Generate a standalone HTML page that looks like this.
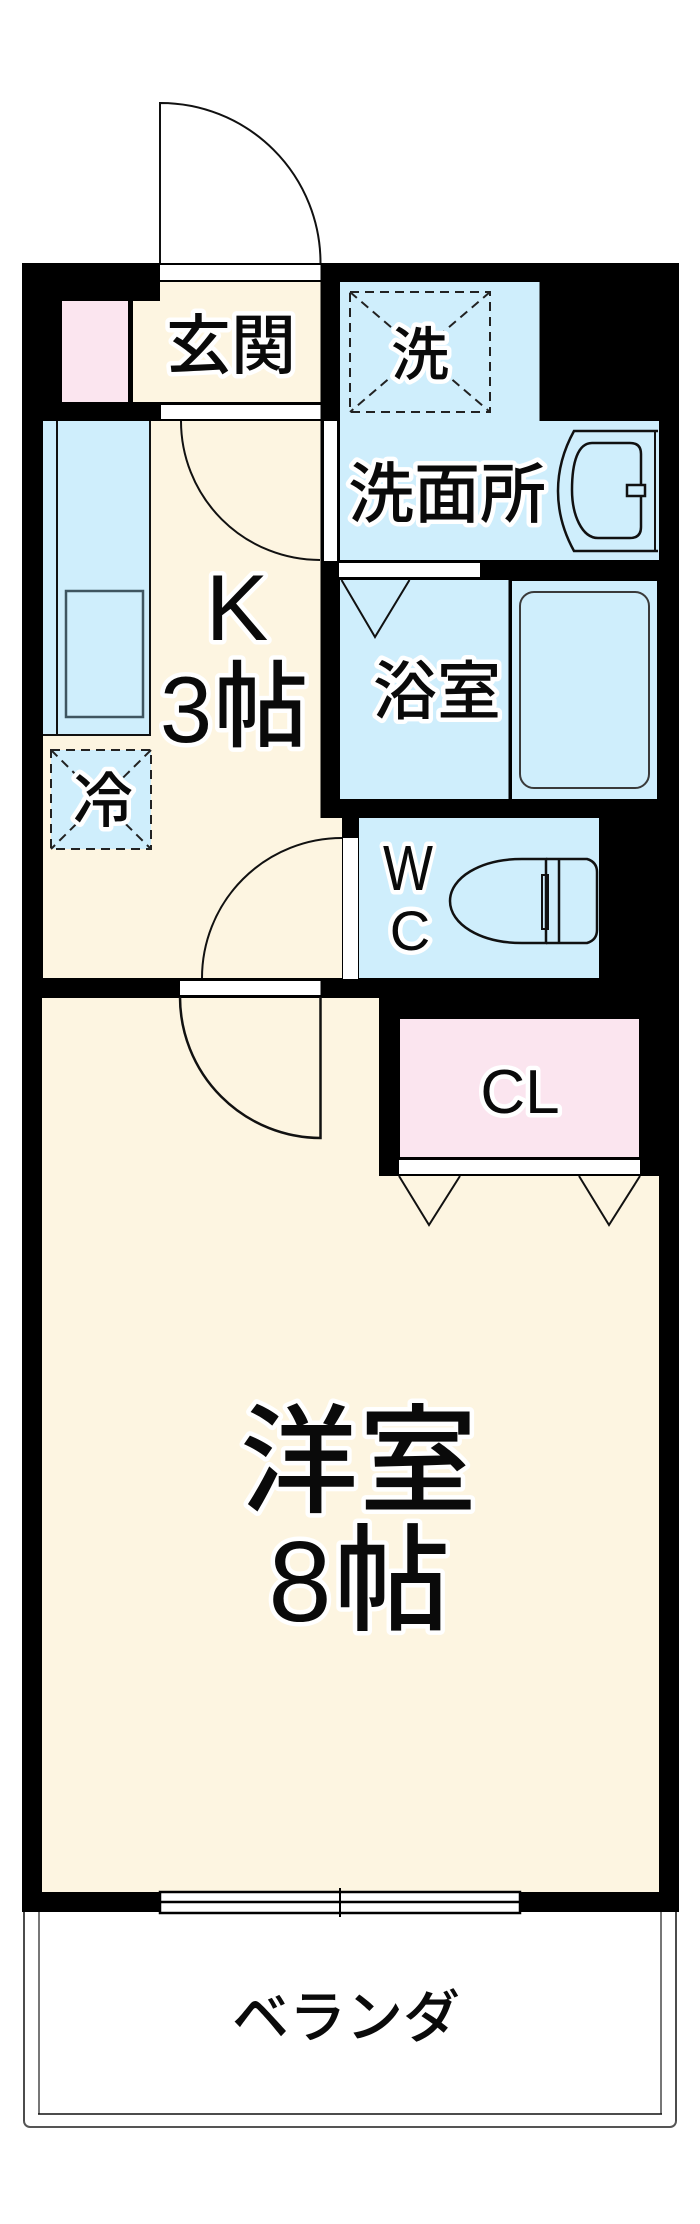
<!DOCTYPE html>
<html><head><meta charset="utf-8"><style>
html,body{margin:0;padding:0;background:#fff}
svg{display:block}
text{font-family:"Liberation Sans","Noto Sans CJK JP",sans-serif;fill:#0a0a0a;stroke:#fff;paint-order:stroke;stroke-linejoin:round;text-anchor:middle}
.j{font-family:"Noto Sans CJK JP","Liberation Sans",sans-serif;font-weight:500}
</style></head><body>
<svg width="700" height="2224" viewBox="0 0 700 2224" xmlns="http://www.w3.org/2000/svg">
<rect width="700" height="2224" fill="#fff"/>
<!-- veranda -->
<path d="M24 1912V2121" fill="none" stroke="#111" stroke-width="1.5"/>
<path d="M676 1912V2121" fill="none" stroke="#111" stroke-width="1.5"/>
<path d="M24 2121a6 6 0 0 0 6 6H670a6 6 0 0 0 6-6" fill="none" stroke="#555" stroke-width="2"/>
<path d="M39 1912V2114M661 1912V2114" fill="none" stroke="#777" stroke-width="2"/>
<path d="M38 2114H662" fill="none" stroke="#111" stroke-width="1.5"/>
<!-- entry door -->
<path d="M160 263V103A160 160 0 0 1 320.500 263" fill="#fff" stroke="#111" stroke-width="2"/>
<!-- walls -->
<rect x="22" y="263" width="657" height="1649" fill="#000"/>
<!-- rooms -->
<path d="M160 282H320.500V402H133V301H160Z" fill="#fdf5e1"/>
<rect x="62" y="301" width="66" height="101" fill="#fbe5ef"/>
<path d="M43 421H320.500V818H342V978H43Z" fill="#fdf5e1"/>
<path d="M42 998H379V1176H659V1892H42Z" fill="#fdf5e1"/>
<path d="M340 282H539.500V421H659V560H340Z" fill="#cfeefc"/>
<rect x="340" y="580" width="168.500" height="219" fill="#cfeefc"/>
<rect x="512" y="581" width="145" height="218" fill="#cfeefc"/>
<rect x="359" y="818" width="240" height="160" fill="#cfeefc"/>
<rect x="400" y="1019" width="239" height="138" fill="#fbe5ef"/>
<!-- sills -->
<g fill="#fff">
<rect x="160" y="265" width="160.500" height="15"/>
<rect x="161" y="405" width="159.500" height="14"/>
<rect x="324" y="421" width="13" height="140"/>
<rect x="339" y="563" width="141" height="14"/>
<rect x="343" y="838" width="15" height="141"/>
<rect x="180" y="981" width="140.500" height="14"/>
<rect x="399" y="1160" width="241" height="14"/>
</g>
<!-- window -->
<rect x="160" y="1892" width="360" height="21" fill="#fff" stroke="#000" stroke-width="2.500"/>
<path d="M160 1902H520" stroke="#000" stroke-width="2.500"/>
<path d="M340 1888V1917" stroke="#000" stroke-width="2"/>
<!-- door arcs -->
<g fill="none" stroke="#111" stroke-width="2">
<path d="M181 421A139 139 0 0 0 320 560"/>
<path d="M342 838A140 140 0 0 0 202 978"/>
<path d="M180 997A141 141 0 0 0 320.500 1138V997" stroke-width="2.500"/>
<path d="M341.500 580L375 637L409.500 580"/>
<path d="M399 1176L429 1225L460 1176"/>
<path d="M579 1176L609 1225L640 1176"/>
</g>
<!-- counter -->
<rect x="43" y="421" width="107" height="314" fill="#cfeefc"/>
<path d="M43 735H150V421" fill="none" stroke="#111" stroke-width="2"/>
<path d="M57 421V735" stroke="#111" stroke-width="2"/>
<rect x="66" y="591" width="77" height="126" fill="#cfeefc" stroke="#3f5560" stroke-width="2.500"/>
<!-- washer pan -->
<g fill="none" stroke="#222" stroke-width="2" stroke-dasharray="9 6">
<rect x="350" y="292" width="140" height="120"/>
<path d="M350 292L490 412M490 292L350 412"/>
</g>
<!-- fridge -->
<rect x="51" y="750" width="100" height="99" fill="#cfeefc" stroke="#222" stroke-width="2" stroke-dasharray="9 6"/>
<path d="M51 750L151 849M151 750L51 849" fill="none" stroke="#222" stroke-width="2" stroke-dasharray="9 6"/>
<!-- sink -->
<g fill="none" stroke="#111" stroke-width="2.500">
<path d="M658 431H574Q558 460 558 491T574 551H658"/>
<path d="M655 431V551" stroke-width="2"/>
<path d="M592 443H630Q641 443 641 454V527Q641 538 630 538H598C582 538 572 515 572 490C572 462 578 443 592 443Z"/>
<rect x="627" y="485" width="18" height="11" fill="#cfeefc"/>
</g>
<!-- bath tub -->
<rect x="520" y="592" width="129" height="196" rx="14" fill="#cfeefc" stroke="#3a3a3a" stroke-width="2"/>
<!-- toilet -->
<g fill="none" stroke="#111" stroke-width="2.500">
<path d="M546 859H522C480 859 450 878 450 901S480 943 522 943H546Z"/>
<path d="M546 859H587Q597 862 597 872V930Q597 940 587 943H546"/>
<path d="M559 859V943"/>
<rect x="542" y="875" width="6" height="54" stroke-width="2"/>
</g>
<!-- labels -->
<g stroke-width="9">
<text class="j" x="231" y="368" font-size="65">玄関</text>
<text class="j" x="420" y="375" font-size="58">洗</text>
<text class="j" x="447" y="517" font-size="66">洗面所</text>
<text x="237" y="640" font-size="94">K</text>
<text x="186" y="742" font-size="94">3</text>
<text class="j" x="261" y="739" font-size="94">帖</text>
<text class="j" x="103" y="822" font-size="60">冷</text>
<text class="j" x="437" y="714" font-size="64">浴室</text>
<text x="408" y="890" font-size="64" textLength="50" lengthAdjust="spacingAndGlyphs">W</text>
<text x="410" y="950" font-size="56">C</text>
<text x="520" y="1113" font-size="62">CL</text>
<text class="j" x="359" y="1503" font-size="118" letter-spacing="1">洋室</text>
<text x="300" y="1621" font-size="114">8</text>
<text class="j" x="392" y="1621" font-size="116">帖</text>
<text class="j" x="346" y="2037" font-size="57">ベランダ</text>
</g>
</svg>
</body></html>
